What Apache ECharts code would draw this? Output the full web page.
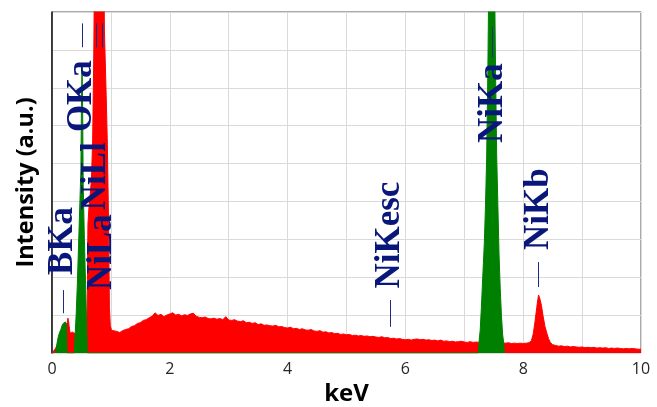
<!DOCTYPE html>
<html>
<head>
<meta charset="utf-8">
<script src="https://cdn.jsdelivr.net/npm/echarts@6/dist/echarts.min.js"></script>
<style>
  html, body { margin: 0; padding: 0; background: #ffffff; }
  #chart { width: 657px; height: 407px; }
</style>
</head>
<body>
<div id="chart"></div>
<script>
// EDS spectrum: total counts (red) and fitted element peaks (green), energy in keV
const redEnergy = [
  0.00, 0.03, 0.06, 0.09, 0.12, 0.15, 0.18, 0.21, 0.24, 0.26, 0.27, 0.28, 0.29, 0.30,
  0.31, 0.32, 0.33, 0.34, 0.35, 0.36, 0.37, 0.38, 0.40, 0.45, 0.50, 0.55, 0.58, 0.59,
  0.60, 0.61, 0.63, 0.65, 0.67, 0.69, 0.71, 0.73, 0.76, 0.80, 0.84, 0.87, 0.89, 0.92,
  0.94, 0.96, 0.975, 0.99, 1.01, 1.04,
  1.05, 1.10, 1.15, 1.20, 1.25, 1.30, 1.35, 1.40, 1.45, 1.50, 1.55, 1.60, 1.65, 1.70,
  1.75, 1.80, 1.85, 1.90, 1.95, 2.00, 2.05, 2.10, 2.15, 2.20, 2.25, 2.30, 2.35, 2.40,
  2.45, 2.50, 2.55, 2.60, 2.65, 2.70, 2.75, 2.80, 2.85, 2.90, 2.95, 3.00, 3.05, 3.10,
  3.15, 3.20, 3.25, 3.30, 3.35, 3.40, 3.45, 3.50, 3.55, 3.60, 3.65, 3.70, 3.75, 3.80,
  3.85, 3.90, 3.95, 4.00, 4.05, 4.10, 4.15, 4.20, 4.25, 4.30, 4.35, 4.40, 4.45, 4.50,
  4.55, 4.60, 4.65, 4.70, 4.75, 4.80, 4.85, 4.90, 4.95, 5.00, 5.05, 5.10, 5.15, 5.20,
  5.25, 5.30, 5.35, 5.40, 5.45, 5.50, 5.55, 5.60, 5.65, 5.70, 5.75, 5.80, 5.85, 5.90,
  5.95, 6.00, 6.05, 6.10, 6.15, 6.20, 6.25, 6.30, 6.35, 6.40, 6.45, 6.50, 6.55, 6.60,
  6.65, 6.70, 6.75, 6.80, 6.85, 6.90, 6.95, 7.00, 7.05, 7.10, 7.15, 7.20, 7.25, 7.30,
  7.35, 7.40, 7.45, 7.50, 7.55, 7.60, 7.65, 7.70, 7.75, 7.80, 7.85, 7.90, 7.95, 8.00,
  8.05, 8.10, 8.14, 8.17, 8.20, 8.23, 8.26, 8.28, 8.31, 8.34, 8.37, 8.40, 8.43, 8.46,
  8.50, 8.55, 8.60, 8.65, 8.70, 8.75, 8.80, 8.85, 8.90, 8.95, 9.00, 9.05, 9.10, 9.15,
  9.20, 9.25, 9.30, 9.35, 9.40, 9.45, 9.50, 9.55, 9.60, 9.65, 9.70, 9.75, 9.80, 9.85,
  9.90, 9.95, 10.00
];
const redCounts = [
  0.00, 0.03, 0.12, 0.22, 0.35, 0.50, 0.62, 0.70, 0.70, 0.80, 0.92, 0.85, 0.72, 0.60,
  0.52, 0.47, 0.46, 0.50, 0.55, 0.52, 0.58, 0.55, 0.50, 0.50, 0.50, 0.50, 0.55, 0.60,
  1.60, 3.40, 3.90, 4.20, 4.60, 5.60, 8.00, 12.0, 18.0, 24.0, 20.0, 12.0, 8.50, 6.80,
  5.50, 3.50, 1.20, 0.72, 0.60, 0.55,
  0.55, 0.57, 0.54, 0.59, 0.62, 0.64, 0.70, 0.72, 0.78, 0.80, 0.86, 0.88, 0.93, 0.97,
  1.06, 0.99, 1.02, 0.96, 1.00, 1.03, 1.06, 1.00, 1.02, 0.98, 1.01, 0.99, 1.03, 1.05,
  0.97, 0.94, 0.93, 0.95, 0.91, 0.90, 0.92, 0.89, 0.91, 0.88, 0.96, 0.87, 0.86, 0.88,
  0.84, 0.83, 0.85, 0.80, 0.81, 0.78, 0.80, 0.75, 0.77, 0.73, 0.74, 0.72, 0.71, 0.73,
  0.69, 0.70, 0.67, 0.66, 0.68, 0.64, 0.65, 0.62, 0.64, 0.61, 0.60, 0.62, 0.58, 0.57,
  0.59, 0.55, 0.56, 0.53, 0.54, 0.51, 0.52, 0.49, 0.50, 0.48, 0.49, 0.46, 0.47, 0.45,
  0.46, 0.44, 0.45, 0.43, 0.44, 0.42, 0.41, 0.43, 0.40, 0.41, 0.38, 0.39, 0.37, 0.38,
  0.36, 0.35, 0.36, 0.34, 0.36, 0.37, 0.35, 0.36, 0.34, 0.35, 0.33, 0.34, 0.32, 0.34,
  0.31, 0.32, 0.30, 0.31, 0.29, 0.30, 0.31, 0.29, 0.28, 0.30, 0.28, 0.29, 0.28, 0.27,
  0.27, 0.27, 0.28, 0.27, 0.27, 0.26, 0.27, 0.26, 0.27, 0.25, 0.26, 0.25, 0.26, 0.25,
  0.26, 0.27, 0.33, 0.50, 0.82, 1.20, 1.53, 1.45, 1.25, 0.95, 0.70, 0.53, 0.38, 0.28,
  0.22, 0.20, 0.18, 0.19, 0.17, 0.18, 0.16, 0.17, 0.16, 0.15, 0.16, 0.14, 0.15, 0.14,
  0.15, 0.13, 0.14, 0.13, 0.14, 0.12, 0.13, 0.12, 0.13, 0.12, 0.11, 0.12, 0.11, 0.12,
  0.11, 0.10, 0.10
];
const greenEnergy = [
  0.05, 0.07, 0.09, 0.11, 0.13, 0.15, 0.17, 0.19, 0.21, 0.23, 0.245, 0.255,
  0.38, 0.39, 0.41, 0.43, 0.45, 0.47, 0.49, 0.50, 0.51, 0.52, 0.53, 0.55, 0.57, 0.59, 0.60,
  7.24, 7.25, 7.27, 7.29, 7.31, 7.34, 7.36, 7.38, 7.40, 7.42, 7.45, 7.47, 7.49, 7.51,
  7.53, 7.55, 7.57, 7.59, 7.61, 7.63, 7.65, 7.67, 7.68
];
const greenCounts = [
  0.00, 0.10, 0.30, 0.45, 0.55, 0.62, 0.72, 0.78, 0.80, 0.82, 0.75, 0.00,
  0.00, 0.40, 1.00, 1.80, 2.80, 3.80, 4.80, 6.50, 7.60, 6.50, 4.40, 3.00, 1.80, 0.60, 0.00,
  0.00, 0.30, 0.60, 1.20, 1.90, 2.90, 3.90, 5.20, 7.50, 10.5, 15.0, 16.0, 14.0, 10.5,
  7.50, 5.20, 3.90, 2.60, 1.70, 1.00, 0.50, 0.25, 0.00
];

// identified lines
const peakNames = ['BKa', 'OKa', 'NiLl', 'NiLa', 'NiKesc', 'NiKa', 'NiKb'];
const peakEnergy = [0.183, 0.51, 0.743, 0.851, 5.738, 7.478, 8.264];
const labelBase = [2.06, 5.83, 3.77, 1.66, 1.70, 5.54, 2.72];
const markerFrom = [1.05, 8.07, 8.07, 8.07, 0.69, 7.80, 1.74];
const markerTo = [1.66, 8.70, 8.70, 8.70, 1.40, 8.60, 2.40];

const xTicks = [0, 2, 4, 6, 8, 10];

const zip = (xs, ys) => xs.map((x, i) => [x, ys[i]]);

const chart = echarts.init(document.getElementById('chart'), null, { renderer: 'canvas' });

chart.setOption({
  animation: false,
  backgroundColor: '#ffffff',
  grid: {
    left: 52, right: 16, top: 12, bottom: 54,
    containLabel: false, outerBoundsMode: 'none',
    show: true, borderColor: '#555555', borderWidth: 1, backgroundColor: 'transparent'
  },
  xAxis: {
    type: 'value', min: 0, max: 10, interval: 1,
    name: 'keV', nameLocation: 'middle', nameGap: 26,
    nameTextStyle: { fontFamily: 'Open Sans', fontWeight: 'bold', fontSize: 24, color: '#000' },
    axisLine: { show: false },
    axisTick: { show: false },
    axisLabel: {
      margin: 8, fontFamily: 'Open Sans', fontSize: 16, color: '#262626',
      formatter: v => (xTicks.indexOf(v) >= 0 ? String(v) : '')
    },
    splitLine: { show: true, lineStyle: { color: '#dadada', width: 1 } }
  },
  yAxis: {
    type: 'value', min: 0, max: 9, interval: 1,
    name: 'Intensity (a.u.)', nameLocation: 'middle', nameGap: 14,
    nameTextStyle: { fontFamily: 'Open Sans', fontWeight: 'bold', fontSize: 23.5, color: '#000' },
    axisLine: { show: true, lineStyle: { color: '#111', width: 1.5 } },
    axisTick: { show: false },
    axisLabel: { show: false },
    splitLine: { show: true, lineStyle: { color: '#dadada', width: 1 } }
  },
  series: [
    {
      name: 'Total', type: 'line', data: zip(redEnergy, redCounts),
      symbol: 'none', clip: true, z: 2,
      lineStyle: { color: '#ff0000', width: 1 },
      areaStyle: { color: '#ff0000', opacity: 1 }
    },
    {
      name: 'Fit', type: 'line', data: zip(greenEnergy, greenCounts),
      symbol: 'none', clip: true, z: 3,
      lineStyle: { color: '#008000', width: 1 },
      areaStyle: { color: '#008000', opacity: 1 }
    },
    {
      name: 'Markers', type: 'line', data: [], z: 4,
      markLine: {
        silent: true, symbol: ['none', 'none'], label: { show: false },
        lineStyle: { color: '#1c2a8a', width: 1, type: 'solid', opacity: 1 },
        data: peakEnergy.map((e, i) => [{ coord: [e, markerFrom[i]] }, { coord: [e, markerTo[i]] }])
      }
    },
    {
      name: 'Lines', type: 'scatter', z: 5, symbolSize: 0, silent: true,
      itemStyle: { opacity: 1 },
      data: peakNames.map((n, i) => [peakEnergy[i], labelBase[i], n]),
      label: {
        show: true, position: 'inside', rotate: 90, opacity: 1,
        align: 'left', verticalAlign: 'middle',
        formatter: p => p.data[2],
        fontFamily: 'Liberation Serif', fontWeight: 'bold', fontSize: 35, color: '#0a177a'
      }
    }
  ]
});
</script>
</body>
</html>
